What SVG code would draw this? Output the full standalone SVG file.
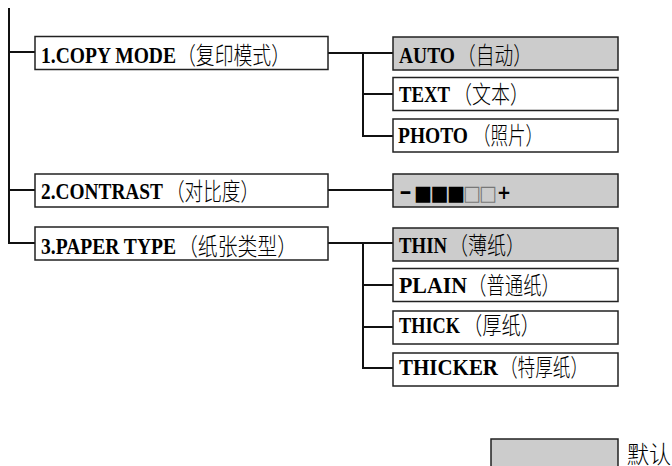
<svg xmlns="http://www.w3.org/2000/svg" width="672" height="466" viewBox="0 0 672 466">
<style>
.box{fill:#fff;stroke:#222;stroke-width:1.5}
.def{fill:#cccccc;stroke:#222;stroke-width:1.5}
.ln{fill:none;stroke:#111;stroke-width:2}
.en{font-family:"Liberation Serif","Times New Roman",serif;font-weight:bold;font-size:24px;fill:#000}
.zh{font-family:"Noto Sans CJK SC","Noto Sans CJK JP",sans-serif;font-weight:300;font-size:24px;fill:#000}
.sym{font-family:"DejaVu Sans",sans-serif;font-weight:bold;font-size:20px;fill:#000}
.sq{font-family:"DejaVu Sans",sans-serif;font-size:21px}
</style>
<rect width="672" height="466" fill="#fff"/>
<g id="connectors">
<path class="ln" d="M9,8 V243 H35"/>
<path class="ln" d="M9,52 H35"/>
<path class="ln" d="M9,190 H35"/>
<path class="ln" d="M328,53 H393"/>
<path class="ln" d="M363,53 V136 H393"/>
<path class="ln" d="M363,94 H393"/>
<path class="ln" d="M328,190 H393"/>
<path class="ln" d="M328,243 H393"/>
<path class="ln" d="M363,243 V368 H393"/>
<path class="ln" d="M363,285 H393"/>
<path class="ln" d="M363,327 H393"/>
</g>
<g id="copy-mode">
<rect class="box" x="35" y="36.5" width="293" height="33"/>
<text class="en" x="41" y="63" textLength="135" lengthAdjust="spacingAndGlyphs">1.COPY MODE</text>
<text class="zh" x="177" y="64" textLength="113" lengthAdjust="spacingAndGlyphs">（复印模式）</text>
</g>
<g id="contrast">
<rect class="box" x="35" y="174" width="293" height="33"/>
<text class="en" x="41" y="199" textLength="122" lengthAdjust="spacingAndGlyphs">2.CONTRAST</text>
<text class="zh" x="166" y="200" textLength="93" lengthAdjust="spacingAndGlyphs">（对比度）</text>
</g>
<g id="paper-type">
<rect class="box" x="35" y="227" width="293" height="33"/>
<text class="en" x="41" y="254" textLength="135" lengthAdjust="spacingAndGlyphs">3.PAPER TYPE</text>
<text class="zh" x="178" y="255" textLength="119" lengthAdjust="spacingAndGlyphs">（纸张类型）</text>
</g>
<g id="auto">
<rect class="def" x="393" y="37" width="225" height="33"/>
<text class="en" x="399" y="63" textLength="56" lengthAdjust="spacingAndGlyphs">AUTO</text>
<text class="zh" x="457" y="64" textLength="75" lengthAdjust="spacingAndGlyphs">（自动）</text>
</g>
<g id="text">
<rect class="box" x="393" y="77.5" width="225" height="33"/>
<text class="en" x="399" y="102" textLength="51" lengthAdjust="spacingAndGlyphs">TEXT</text>
<text class="zh" x="453" y="103" textLength="76" lengthAdjust="spacingAndGlyphs">（文本）</text>
</g>
<g id="photo">
<rect class="box" x="393" y="119" width="225" height="33"/>
<text class="en" x="398" y="143" textLength="70" lengthAdjust="spacingAndGlyphs">PHOTO</text>
<text class="zh" x="473" y="144" textLength="70" lengthAdjust="spacingAndGlyphs">（照片）</text>
</g>
<g id="contrast-level">
<rect class="def" x="393" y="174" width="225" height="33"/>
<text class="sym" x="399" y="198" textLength="13" lengthAdjust="spacingAndGlyphs">-</text>
<text class="sq" x="414" y="200" fill="#000" textLength="18" lengthAdjust="spacingAndGlyphs">■</text>
<text class="sq" x="430.5" y="200" fill="#000" textLength="18" lengthAdjust="spacingAndGlyphs">■</text>
<text class="sq" x="447" y="200" fill="#000" textLength="18" lengthAdjust="spacingAndGlyphs">■</text>
<text class="sq" x="463" y="200" fill="#777" textLength="18" lengthAdjust="spacingAndGlyphs">□</text>
<text class="sq" x="479" y="200" fill="#777" textLength="18" lengthAdjust="spacingAndGlyphs">□</text>
<text class="sym" x="497" y="199" textLength="14" lengthAdjust="spacingAndGlyphs">+</text>
</g>
<g id="thin">
<rect class="def" x="393" y="228" width="225" height="33"/>
<text class="en" x="399" y="253" textLength="48" lengthAdjust="spacingAndGlyphs">THIN</text>
<text class="zh" x="449" y="254" textLength="76" lengthAdjust="spacingAndGlyphs">（薄纸）</text>
</g>
<g id="plain">
<rect class="box" x="393" y="268.5" width="225" height="33"/>
<text class="en" x="399" y="293" textLength="68" lengthAdjust="spacingAndGlyphs">PLAIN</text>
<text class="zh" x="468" y="294" textLength="92" lengthAdjust="spacingAndGlyphs">（普通纸）</text>
</g>
<g id="thick">
<rect class="box" x="393" y="311" width="225" height="33"/>
<text class="en" x="399" y="333" textLength="61" lengthAdjust="spacingAndGlyphs">THICK</text>
<text class="zh" x="463" y="334" textLength="77" lengthAdjust="spacingAndGlyphs">（厚纸）</text>
</g>
<g id="thicker">
<rect class="box" x="393" y="353" width="225" height="33"/>
<text class="en" x="399" y="375" textLength="99" lengthAdjust="spacingAndGlyphs">THICKER</text>
<text class="zh" x="500" y="376" textLength="88" lengthAdjust="spacingAndGlyphs">（特厚纸）</text>
</g>
<g id="legend">
<rect class="def" x="491" y="439" width="127" height="34"/>
<text class="zh" x="627" y="463" textLength="44" lengthAdjust="spacingAndGlyphs">默认</text>
</g>
</svg>
